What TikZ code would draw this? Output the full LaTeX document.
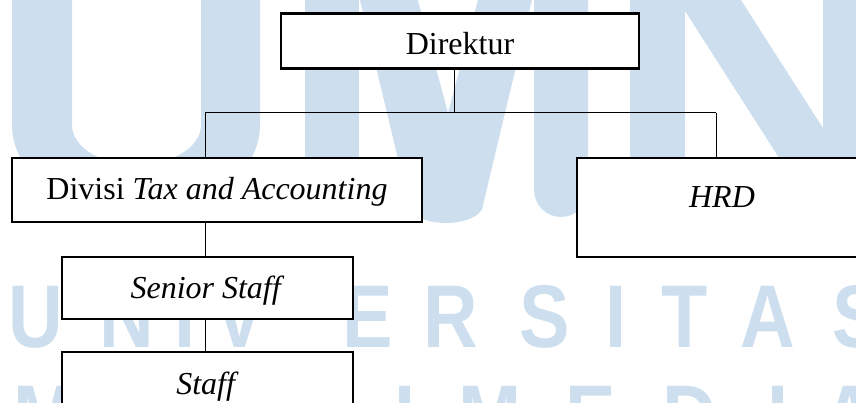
\documentclass[tikz,border=0pt]{standalone}
\usepackage{fontspec}
\setmainfont{Liberation Serif}
\newfontfamily\wmfont{Liberation Sans}
\usepackage{tikz}
\definecolor{umnblue}{RGB}{205,223,238}

\tikzset{
  unit/.style={draw, fill=white, line width=2.4pt, inner sep=0pt,
    font=\fontsize{32}{38}\selectfont, text height=22pt, text depth=2pt},
  link/.style={line width=1pt},
  wmletter/.style={text=umnblue, anchor=base, inner sep=0pt, xscale=0.85,
    font=\wmfont\bfseries\fontsize{89}{89}\selectfont}
}

\begin{document}
\begin{tikzpicture}[x=1pt,y=-1pt]
    \useasboundingbox (0,0) rectangle (856,403);
    \clip (0,0) rectangle (856,403);

    % Draw the watermark letters U, M and N
    \fill[umnblue] (12,-5) -- (12,125) arc[start angle=180, end angle=0, x radius=124, y radius=90]
        -- (260,-5) -- (201,-5) -- (201,125) arc[start angle=0, end angle=180, x radius=64.5, y radius=40]
        -- (72,-5) -- cycle;
    \fill[umnblue] (305,-5) rectangle (359,215);
    \fill[umnblue] (534,-5) -- (534,190) arc[start angle=180, end angle=0, radius=27] -- (588,-5) -- cycle;
    \fill[umnblue] (358.8,-5) -- (416.5,-5) -- (448,113) -- (479.2,-5) -- (533.2,-5) -- (483,205)
        arc[start angle=0, end angle=180, x radius=37, y radius=18] -- cycle;
    \fill[umnblue] (630,-5) rectangle (685,250);
    \fill[umnblue] (674.8,-5) -- (737.8,-5) -- (901,250) -- (838,250) -- cycle;
    \fill[umnblue] (823,-5) rectangle (870,250);

    % Watermark lines of text
    \foreach \ch/\xx in {U/36, N/127, I/185, V/240, E/368, R/451, S/545, I/616, T/685, A/768, S/858}
        \node[wmletter] (uni\xx) at (\xx,347) {\ch};
    \foreach \ch/\xx in {M/45, U/148, L/240, T/331, I/405, M/490, E/591, D/690, I/778, A/850}
        \node[wmletter] (mul\xx) at (\xx,447) {\ch};

    % Draw the units
    \node[unit, minimum width=358pt, minimum height=55pt, text height=30pt] (dir) at (460,41) {Direktur};
    \node[unit, minimum width=410pt, minimum height=64pt] (div) at (217,190) {Divisi \textit{Tax and Accounting}};
    \node[unit, minimum width=290pt, minimum height=99pt, text depth=22pt] (hrd) at (722,207.5) {\textit{HRD}};
    \node[unit, minimum width=291pt, minimum height=62pt] (sen) at (207.5,288) {\textit{Senior Staff}};
    \node[unit, minimum width=291pt, minimum height=99pt, text depth=37pt] (stf) at (207.5,401.5) {\textit{Staff}};

    % Draw the connectors
    \coordinate (busM) at (454,113);
    \coordinate (busL) at (205,113);
    \coordinate (busR) at (716,113);
    \draw[link] (dir.south -| busM) -- (busM);
    \draw[link] (busL) -- (busR);
    \draw[link] (busL) -- (busL |- div.north);
    \draw[link] (busR) -- (busR |- hrd.north);
    \draw[link] (div.south -| busL) -- (sen.north -| busL);
    \draw[link] (sen.south -| busL) -- (stf.north -| busL);
\end{tikzpicture}
\end{document}
